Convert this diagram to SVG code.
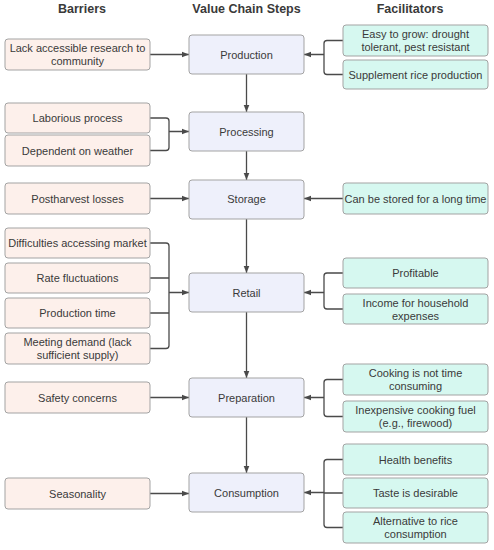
<svg xmlns="http://www.w3.org/2000/svg" width="494" height="550" viewBox="0 0 494 550">
<defs>
<style>
text{font-family:"Liberation Sans",Arial,sans-serif;font-size:11px;fill:#3a3a3a;text-anchor:middle;dominant-baseline:central}
.h{font-weight:bold;font-size:12.5px}
.b rect{fill:#fdf0eb;stroke:#a3a3a3;stroke-width:1}
.v rect{fill:#eef0fb;stroke:#a3a3a3;stroke-width:1}
.f rect{fill:#d6f8f0;stroke:#a3a3a3;stroke-width:1}
.c path{fill:none;stroke:#4a4a4a;stroke-width:1.3}
</style>
<marker id="ah" viewBox="0 0 10 10" refX="10" refY="5" markerWidth="7" markerHeight="7" orient="auto" markerUnits="userSpaceOnUse">
<path d="M0,1 L10,5 L0,9 z" fill="#4a4a4a"/>
</marker>
</defs>
<rect width="494" height="550" fill="#fff"/>
<g id="headers">
<text class="h" x="82" y="9">Barriers</text>
<text class="h" x="246.5" y="9">Value Chain Steps</text>
<text class="h" x="410" y="9">Facilitators</text>
</g>
<g id="connectors" class="c">
<path d="M150,54.5 H189" marker-end="url(#ah)"/>
<path d="M343,40.5 H327 Q324,40.5 324,43.5 V71.5 Q324,74.5 327,74.5 H343 M324,54.5 H304" marker-end="url(#ah)"/>
<path d="M246.5,74 V112" marker-end="url(#ah)"/>
<path d="M150,118 H166 Q169,118 169,121 V147.5 Q169,150.5 166,150.5 H150 M169,131.5 H189" marker-end="url(#ah)"/>
<path d="M246.5,151 V180" marker-end="url(#ah)"/>
<path d="M150,198.5 H189" marker-end="url(#ah)"/>
<path d="M343,198.5 H304" marker-end="url(#ah)"/>
<path d="M246.5,219 V273" marker-end="url(#ah)"/>
<path d="M150,243 H166 Q169,243 169,246 V345.5 Q169,348.5 166,348.5 H150 M150,278 H169 M150,313 H169 M169,292.5 H189" marker-end="url(#ah)"/>
<path d="M343,273 H327 Q324,273 324,276 V306 Q324,309 327,309 H343 M324,292.5 H304" marker-end="url(#ah)"/>
<path d="M246.5,312 V378" marker-end="url(#ah)"/>
<path d="M150,397.5 H189" marker-end="url(#ah)"/>
<path d="M343,379.5 H327 Q324,379.5 324,382.5 V413.5 Q324,416.5 327,416.5 H343 M324,397.5 H304" marker-end="url(#ah)"/>
<path d="M246.5,417 V473" marker-end="url(#ah)"/>
<path d="M150,493.5 H189" marker-end="url(#ah)"/>
<path d="M343,459.5 H327 Q324,459.5 324,462.5 V524.5 Q324,527.5 327,527.5 H343 M343,493 H324 M324,492.5 H304" marker-end="url(#ah)"/>
</g>
<g id="b-lack" class="b"><rect x="5" y="39" width="145" height="31" rx="3"/><text x="77.5" y="48">Lack accessible research to</text><text x="77.5" y="61">community</text></g>
<g id="b-laborious" class="b"><rect x="5" y="103" width="145" height="30" rx="3"/><text x="77.5" y="118">Laborious process</text></g>
<g id="b-weather" class="b"><rect x="5" y="135" width="145" height="31" rx="3"/><text x="77.5" y="150.5">Dependent on weather</text></g>
<g id="b-postharvest" class="b"><rect x="5" y="183" width="145" height="31" rx="3"/><text x="77.5" y="198.5">Postharvest losses</text></g>
<g id="b-market" class="b"><rect x="5" y="228" width="145" height="30" rx="3"/><text x="77.5" y="243">Difficulties accessing market</text></g>
<g id="b-rate" class="b"><rect x="5" y="263" width="145" height="30" rx="3"/><text x="77.5" y="278">Rate fluctuations</text></g>
<g id="b-prodtime" class="b"><rect x="5" y="298" width="145" height="30" rx="3"/><text x="77.5" y="313">Production time</text></g>
<g id="b-demand" class="b"><rect x="5" y="333" width="145" height="31" rx="3"/><text x="77.5" y="342">Meeting demand (lack</text><text x="77.5" y="355">sufficient supply)</text></g>
<g id="b-safety" class="b"><rect x="5" y="382" width="145" height="31" rx="3"/><text x="77.5" y="397.5">Safety concerns</text></g>
<g id="b-season" class="b"><rect x="5" y="478" width="145" height="31" rx="3"/><text x="77.5" y="493.5">Seasonality</text></g>
<g id="v-production" class="v"><rect x="189" y="35" width="115" height="39" rx="3"/><text x="246.5" y="54.5">Production</text></g>
<g id="v-processing" class="v"><rect x="189" y="112" width="115" height="39" rx="3"/><text x="246.5" y="131.5">Processing</text></g>
<g id="v-storage" class="v"><rect x="189" y="180" width="115" height="39" rx="3"/><text x="246.5" y="198.5">Storage</text></g>
<g id="v-retail" class="v"><rect x="189" y="273" width="115" height="39" rx="3"/><text x="246.5" y="292.5">Retail</text></g>
<g id="v-preparation" class="v"><rect x="189" y="378" width="115" height="39" rx="3"/><text x="246.5" y="397.5">Preparation</text></g>
<g id="v-consumption" class="v"><rect x="189" y="473" width="115" height="39" rx="3"/><text x="246.5" y="492.5">Consumption</text></g>
<g id="f-easy" class="f"><rect x="343" y="25" width="145" height="31" rx="3"/><text x="415.5" y="34">Easy to grow: drought</text><text x="415.5" y="47">tolerant, pest resistant</text></g>
<g id="f-supplement" class="f"><rect x="343" y="60" width="145" height="29" rx="3"/><text x="415.5" y="74.5">Supplement rice production</text></g>
<g id="f-stored" class="f"><rect x="343" y="183" width="145" height="31" rx="3"/><text x="415.5" y="198.5">Can be stored for a long time</text></g>
<g id="f-profitable" class="f"><rect x="343" y="258" width="145" height="30" rx="3"/><text x="415.5" y="273">Profitable</text></g>
<g id="f-income" class="f"><rect x="343" y="294" width="145" height="30" rx="3"/><text x="415.5" y="302.5">Income for household</text><text x="415.5" y="315.5">expenses</text></g>
<g id="f-cooking" class="f"><rect x="343" y="364" width="145" height="31" rx="3"/><text x="415.5" y="373">Cooking is not time</text><text x="415.5" y="386">consuming</text></g>
<g id="f-fuel" class="f"><rect x="343" y="401" width="145" height="31" rx="3"/><text x="415.5" y="410">Inexpensive cooking fuel</text><text x="415.5" y="423">(e.g., firewood)</text></g>
<g id="f-health" class="f"><rect x="343" y="444" width="145" height="31" rx="3"/><text x="415.5" y="459.5">Health benefits</text></g>
<g id="f-taste" class="f"><rect x="343" y="478" width="145" height="30" rx="3"/><text x="415.5" y="493">Taste is desirable</text></g>
<g id="f-alt" class="f"><rect x="343" y="512" width="145" height="31" rx="3"/><text x="415.5" y="521">Alternative to rice</text><text x="415.5" y="534">consumption</text></g>
</svg>
